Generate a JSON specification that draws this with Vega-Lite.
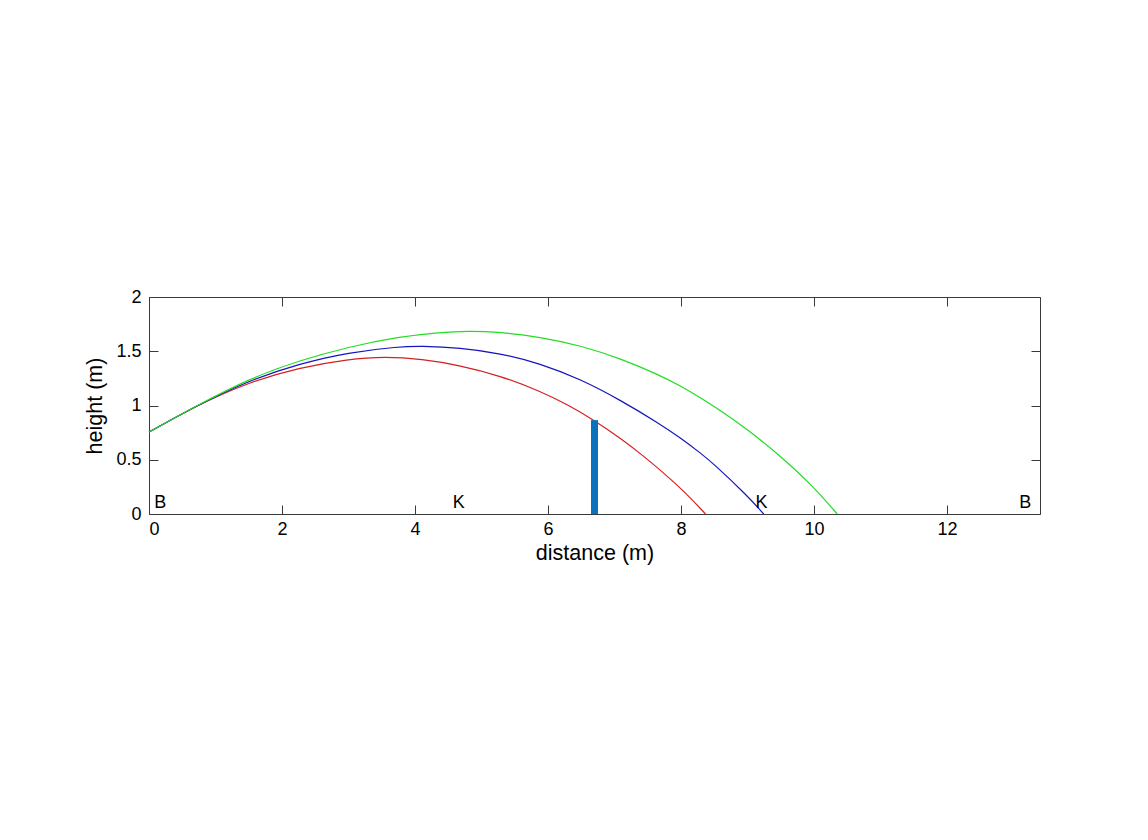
{
  "$schema": "https://vega.github.io/schema/vega-lite/v6.json",
  "autosize": "none",
  "width": 891,
  "height": 217,
  "padding": {"left": 149, "top": 297, "right": 108, "bottom": 326},
  "background": "white",
  "config": {
    "view": {"stroke": "#3a3a3a", "strokeWidth": 1},
    "font": "Liberation Sans",
    "axis": {
      "grid": false,
      "domain": false,
      "tickColor": "#3a3a3a",
      "tickSize": -9,
      "labelColor": "black",
      "labelFontSize": 18,
      "labelFont": "Liberation Sans",
      "titleFont": "Liberation Sans",
      "titleFontSize": 21.5,
      "titleFontWeight": "normal",
      "titleColor": "black"
    }
  },
  "datasets": {
    "traj": [
      {"shot": "red", "x": 0, "y": 0.755},
      {"shot": "red", "x": 0.75, "y": 1.01},
      {"shot": "red", "x": 1.5, "y": 1.215},
      {"shot": "red", "x": 2.26, "y": 1.349},
      {"shot": "red", "x": 3.0, "y": 1.428},
      {"shot": "red", "x": 3.55, "y": 1.45},
      {"shot": "red", "x": 4.1, "y": 1.428},
      {"shot": "red", "x": 4.68, "y": 1.37},
      {"shot": "red", "x": 5.28, "y": 1.274},
      {"shot": "red", "x": 5.88, "y": 1.133},
      {"shot": "red", "x": 6.29, "y": 1.01},
      {"shot": "red", "x": 6.69, "y": 0.866},
      {"shot": "red", "x": 7.09, "y": 0.698},
      {"shot": "red", "x": 7.39, "y": 0.56},
      {"shot": "red", "x": 7.99, "y": 0.248},
      {"shot": "red", "x": 8.37, "y": 0},
      {"shot": "blue", "x": 0, "y": 0.755},
      {"shot": "blue", "x": 0.75, "y": 1.01},
      {"shot": "blue", "x": 1.5, "y": 1.23},
      {"shot": "blue", "x": 2.26, "y": 1.385},
      {"shot": "blue", "x": 3.0, "y": 1.49},
      {"shot": "blue", "x": 3.76, "y": 1.542},
      {"shot": "blue", "x": 4.08, "y": 1.548},
      {"shot": "blue", "x": 4.68, "y": 1.533},
      {"shot": "blue", "x": 5.28, "y": 1.481},
      {"shot": "blue", "x": 5.88, "y": 1.388},
      {"shot": "blue", "x": 6.49, "y": 1.242},
      {"shot": "blue", "x": 7.09, "y": 1.05},
      {"shot": "blue", "x": 7.69, "y": 0.828},
      {"shot": "blue", "x": 7.99, "y": 0.702},
      {"shot": "blue", "x": 8.29, "y": 0.564},
      {"shot": "blue", "x": 8.49, "y": 0.464},
      {"shot": "blue", "x": 8.99, "y": 0.174},
      {"shot": "blue", "x": 9.245, "y": 0},
      {"shot": "green", "x": 0, "y": 0.755},
      {"shot": "green", "x": 0.75, "y": 1.01},
      {"shot": "green", "x": 1.5, "y": 1.245},
      {"shot": "green", "x": 2.26, "y": 1.415},
      {"shot": "green", "x": 3.0, "y": 1.54},
      {"shot": "green", "x": 3.76, "y": 1.634},
      {"shot": "green", "x": 4.38, "y": 1.675},
      {"shot": "green", "x": 4.8, "y": 1.687},
      {"shot": "green", "x": 5.28, "y": 1.677},
      {"shot": "green", "x": 5.88, "y": 1.632},
      {"shot": "green", "x": 6.49, "y": 1.553},
      {"shot": "green", "x": 7.09, "y": 1.433},
      {"shot": "green", "x": 7.69, "y": 1.277},
      {"shot": "green", "x": 7.99, "y": 1.181},
      {"shot": "green", "x": 8.29, "y": 1.073},
      {"shot": "green", "x": 8.59, "y": 0.956},
      {"shot": "green", "x": 8.99, "y": 0.784},
      {"shot": "green", "x": 9.5, "y": 0.534},
      {"shot": "green", "x": 10.0, "y": 0.249},
      {"shot": "green", "x": 10.35, "y": 0}
    ],
    "net": [{"x": 6.7, "y": 0, "y2": 0.865}],
    "marks": [
      {"x": 0.17, "y": 0.1, "label": "B"},
      {"x": 4.66, "y": 0.1, "label": "K"},
      {"x": 9.21, "y": 0.1, "label": "K"},
      {"x": 13.18, "y": 0.1, "label": "B"}
    ]
  },
  "layer": [
    {
      "data": {"name": "traj"},
      "mark": {"type": "line", "interpolate": "basis", "strokeWidth": 1.2},
      "encoding": {
        "x": {"field": "x", "type": "quantitative",
              "scale": {"domain": [0, 13.4], "nice": false, "zero": false},
              "axis": {"orient": "bottom", "values": [0, 2, 4, 6, 8, 10, 12], "title": "distance (m)", "labelPadding": 15, "titleY": 28}},
        "y": {"field": "y", "type": "quantitative",
              "scale": {"domain": [0, 2], "nice": false},
              "axis": {"orient": "left", "values": [0, 0.5, 1, 1.5, 2], "format": "~g", "title": "height (m)", "labelPadding": 17, "titleX": -43}},
        "color": {"field": "shot", "type": "nominal",
                  "scale": {"domain": ["red", "blue", "green"], "range": ["#d42020", "#1515c0", "#22dd22"]},
                  "legend": null},
        "detail": {"field": "shot"}
      }
    },
    {
      "data": {"name": "net"},
      "mark": {"type": "rule", "strokeWidth": 7, "color": "#0a72bd", "strokeCap": "butt"},
      "encoding": {
        "x": {"field": "x", "type": "quantitative",
              "axis": {"orient": "top", "values": [0, 2, 4, 6, 8, 10, 12], "labels": false, "title": null}},
        "y": {"field": "y", "type": "quantitative",
              "axis": {"orient": "right", "values": [0, 0.5, 1, 1.5, 2], "labels": false, "title": null}},
        "y2": {"field": "y2"}
      }
    },
    {
      "data": {"name": "marks"},
      "mark": {"type": "text", "fontSize": 18, "color": "black", "font": "Liberation Sans"},
      "encoding": {
        "x": {"field": "x", "type": "quantitative", "axis": null},
        "y": {"field": "y", "type": "quantitative", "axis": null},
        "text": {"field": "label"}
      }
    }
  ],
  "resolve": {"axis": {"x": "independent", "y": "independent"}}
}
